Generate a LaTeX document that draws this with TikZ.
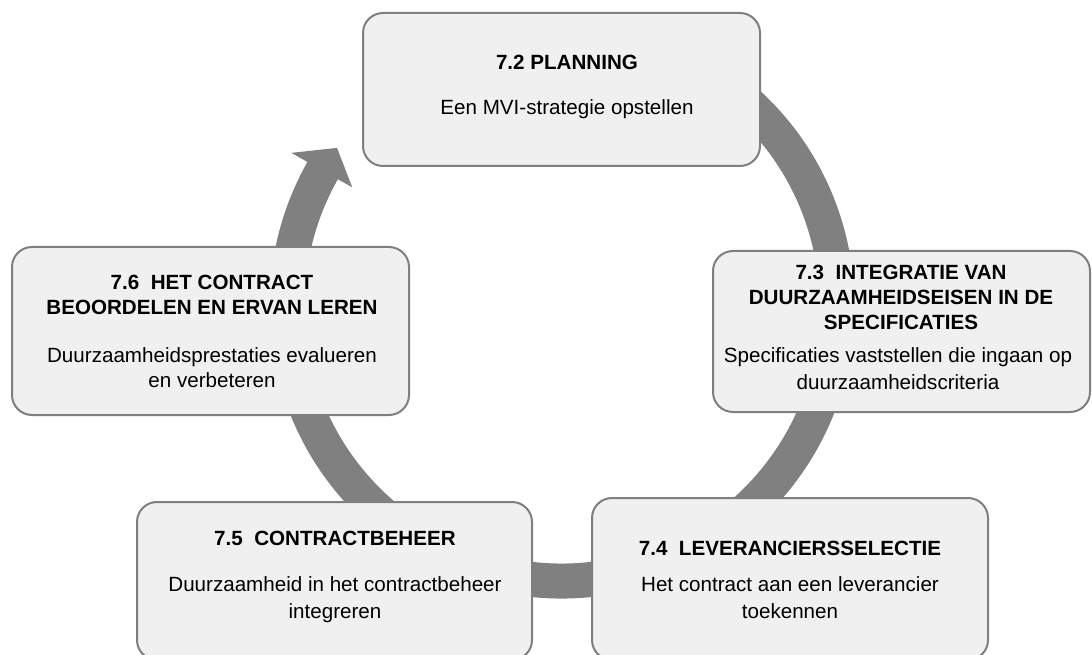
\documentclass[tikz,border=0pt]{standalone}
\usepackage{fontspec}
\setmainfont{Liberation Sans}
\definecolor{ringgray}{HTML}{808080}
\definecolor{boxfill}{HTML}{F0F0F0}
\definecolor{boxline}{HTML}{7F7F7F}
\begin{document}
\begin{tikzpicture}[x=1pt,y=1pt,
  stage/.style={draw=boxline, line width=2pt, fill=boxfill, rounded corners=20pt, inner sep=0pt},
  ttl/.style={font=\fontsize{20.6}{25}\selectfont\bfseries, anchor=base, inner sep=0pt},
  txt/.style={font=\fontsize{20.6}{25}\selectfont, anchor=base, inner sep=0pt}]
\useasboundingbox (0,0) rectangle (1092,654);
\coordinate (c) at (562,348);
% cycle ring with arrow head
\draw[ringgray, line width=35pt] ([shift={(100:275)}]c) arc[start angle=100, end angle=-210, radius=275];
\fill[ringgray] ([shift={(150.5:241)}]c) -- ([shift={(150.5:311)}]c) -- ([shift={(144.9:275)}]c) -- cycle;
% boxes
\node[stage, minimum width=397pt, minimum height=153pt] (b72) at (561.5,564.5) {};
\node[stage, minimum width=397pt, minimum height=168pt] (b76) at (210.5,323) {};
\node[stage, minimum width=377pt, minimum height=161pt] (b73) at (901.5,322.5) {};
\node[stage, minimum width=395pt, minimum height=158pt] (b75) at (334.5,73) {};
\node[stage, minimum width=396pt, minimum height=162pt] (b74) at (790,75) {};
% texts 7.2
\node[ttl] (t72) at (567,584) {7.2 PLANNING};
\node[txt] (d72) at (567,539) {Een MVI-strategie opstellen};
% texts 7.6
\node[ttl] (t76a) at (212,364) {7.6~ HET CONTRACT};
\node[ttl] (t76b) at (212,339) {BEOORDELEN EN ERVAN LEREN};
\node[txt] (d76a) at (212,291) {Duurzaamheidsprestaties evalueren};
\node[txt] (d76b) at (212,266) {en verbeteren};
% texts 7.3
\node[ttl] (t73a) at (901,374) {7.3~ INTEGRATIE VAN};
\node[ttl] (t73b) at (901,349) {DUURZAAMHEIDSEISEN IN DE};
\node[ttl] (t73c) at (901,324) {SPECIFICATIES};
\node[txt] (d73a) at (898,291) {Specificaties vaststellen die ingaan op};
\node[txt] (d73b) at (898,265) {duurzaamheidscriteria};
% texts 7.4
\node[ttl] (t74) at (790,99) {7.4~ LEVERANCIERSSELECTIE};
\node[txt] (d74a) at (790,63) {Het contract aan een leverancier};
\node[txt] (d74b) at (790,36) {toekennen};
% texts 7.5
\node[ttl] (t75) at (335,109) {7.5~ CONTRACTBEHEER};
\node[txt] (d75a) at (335,63) {Duurzaamheid in het contractbeheer};
\node[txt] (d75b) at (335,36) {integreren};
\end{tikzpicture}
\end{document}
